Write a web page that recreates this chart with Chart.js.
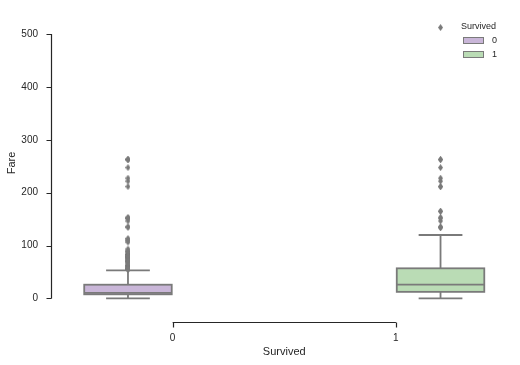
<!DOCTYPE html>
<html>
<head>
<meta charset="utf-8">
<script src="https://cdn.jsdelivr.net/npm/chart.js@4.4.1/dist/chart.umd.min.js"></script>
<style>
body { margin: 0; background: #fff; }
#wrap { position: relative; width: 520px; height: 365px; }
#legend { position: absolute; left: 461px; top: 21px; font: 9px "Liberation Sans", Arial, sans-serif; color: #262626; }
#legend .row { position: relative; height: 14px; }
#legend .swatch { position: absolute; left: 2px; top: 3px; width: 19px; height: 5px; border: 1px solid #7a7a7a; }
#legend .lbl { position: absolute; left: 31px; top: 0; }
</style>
</head>
<body>
<div id="wrap">
  <canvas id="myChart" width="520" height="365"></canvas>
  <div id="legend"></div>
</div>
<script>
// Titanic fare by survival
const categories = ['0', '1'];
const whiskerLow = [0, 0];
const q1 = [7.85, 12.48];
const medians = [10.5, 26];
const q3 = [26, 57];
const whiskerHigh = [53.1, 120];
const outliers0 = [263, 263, 262.38, 247.52, 227.53, 221.78, 211.5, 153.46, 151.55, 151.55,
    146.52, 135.63, 134.5, 113.28, 110.88, 108.9, 106.43, 93.5, 90, 89.1, 86.5, 83.48, 83.16,
    82.17, 81.86, 79.65, 79.2, 78.85, 77.96, 77.29, 76.73, 75.25, 73.5, 71.28, 71, 69.55, 69.3,
    66.6, 63.36, 61.98, 61.38, 61.18, 59.4, 57.75, 56.93, 56.5, 55.9, 55.44, 55];
const outliers1 = [512.33, 263, 262.38, 247.52, 227.53, 221.78, 211.5, 211.34, 164.87, 164.87,
    153.46, 151.55, 146.52, 135.63, 134.5, 133.65];
const outliers = [outliers0, outliers1];
const yTicks = [0, 100, 200, 300, 400, 500];
const xTicks = [0, 1];

const boxColors = ['#c9b6d8', '#badcb5'];
const lineColor = '#7a7a7a';
const axisColor = '#262626';
const boxWidth = 0.392;
const hueOffset = [-0.2, 0.2];

function boxPos(i) {
    return i + hueOffset[i];
}

// thin diamond marker like matplotlib 'd'
const diamond = document.createElement('canvas');
diamond.width = 5;
diamond.height = 7;
const dctx = diamond.getContext('2d');
dctx.fillStyle = lineColor;
dctx.beginPath();
dctx.moveTo(2.5, 0);
dctx.lineTo(5, 3.5);
dctx.lineTo(2.5, 7);
dctx.lineTo(0, 3.5);
dctx.closePath();
dctx.fill();

const boxPlugin = {
    id: 'boxes',
    beforeDatasetsDraw(chart) {
        const { ctx, scales: { x, y } } = chart;
        ctx.save();
        ctx.lineWidth = 1.8;
        ctx.strokeStyle = lineColor;
        categories.forEach((c, i) => {
            const xc = x.getPixelForValue(boxPos(i));
            const half = x.getPixelForValue(boxPos(i) + boxWidth / 2) - xc;
            const top = y.getPixelForValue(q3[i]);
            const bot = y.getPixelForValue(q1[i]);
            const med = y.getPixelForValue(medians[i]);
            const hi = y.getPixelForValue(whiskerHigh[i]);
            const lo = y.getPixelForValue(whiskerLow[i]);
            ctx.beginPath();
            ctx.moveTo(xc, top); ctx.lineTo(xc, hi);
            ctx.moveTo(xc, bot); ctx.lineTo(xc, lo);
            ctx.moveTo(xc - half / 2, hi); ctx.lineTo(xc + half / 2, hi);
            ctx.moveTo(xc - half / 2, lo); ctx.lineTo(xc + half / 2, lo);
            ctx.stroke();
            ctx.fillStyle = boxColors[i];
            ctx.fillRect(xc - half, top, half * 2, bot - top);
            ctx.strokeRect(xc - half, top, half * 2, bot - top);
            ctx.beginPath();
            ctx.moveTo(xc - half, med); ctx.lineTo(xc + half, med);
            ctx.stroke();
        });
        ctx.restore();
    }
};

// offset, trimmed spines (seaborn despine(offset=10, trim=True))
const spinePlugin = {
    id: 'spines',
    afterDraw(chart) {
        const { ctx, chartArea, scales: { x, y } } = chart;
        ctx.save();
        ctx.strokeStyle = axisColor;
        ctx.lineWidth = 1.2;
        const sx = Math.round(chartArea.left - 10) + 0.5;
        const sy = Math.round(chartArea.bottom + 10) + 0.5;
        ctx.beginPath();
        ctx.moveTo(sx, y.getPixelForValue(yTicks[0]));
        ctx.lineTo(sx, y.getPixelForValue(yTicks[yTicks.length - 1]));
        yTicks.forEach(v => {
            const py = Math.round(y.getPixelForValue(v)) + 0.5;
            ctx.moveTo(sx - 5, py); ctx.lineTo(sx, py);
        });
        ctx.moveTo(x.getPixelForValue(xTicks[0]), sy);
        ctx.lineTo(x.getPixelForValue(xTicks[xTicks.length - 1]), sy);
        xTicks.forEach(v => {
            const px = Math.round(x.getPixelForValue(v)) + 0.5;
            ctx.moveTo(px, sy); ctx.lineTo(px, sy + 5);
        });
        ctx.stroke();
        ctx.restore();
    }
};

const tickFont = { family: '"Liberation Sans", Arial, sans-serif', size: 10 };
const titleFont = { family: '"Liberation Sans", Arial, sans-serif', size: 11 };

const ctx = document.getElementById('myChart').getContext('2d');
// eslint-disable-next-line no-undef
new Chart(ctx, {
    type: 'scatter',
    data: {
        datasets: categories.map((c, i) => ({
            label: c,
            data: outliers[i].map(v => ({ x: boxPos(i), y: v })),
            pointStyle: diamond,
            backgroundColor: lineColor,
            borderColor: lineColor
        }))
    },
    options: {
        responsive: false,
        animation: false,
        layout: { padding: { left: 0, top: 14, right: 12.5, bottom: 0 } },
        plugins: {
            legend: { display: false },
            tooltip: { enabled: false }
        },
        scales: {
            x: {
                type: 'linear',
                min: -0.5,
                max: 1.5,
                afterBuildTicks: s => { s.ticks = xTicks.map(v => ({ value: v })); },
                afterFit: s => { s.height = 53; },
                grid: { color: 'transparent', tickLength: 12 },
                border: { display: false },
                ticks: { padding: 8, color: axisColor, font: tickFont, callback: (v, idx) => categories[idx] },
                title: { display: true, text: 'Survived', color: axisColor, font: titleFont, padding: { top: 0, bottom: 6.4 } }
            },
            y: {
                min: -25.6,
                max: 537.9,
                afterBuildTicks: s => { s.ticks = yTicks.map(v => ({ value: v })); },
                afterFit: s => { s.width = 61; },
                grid: { color: 'transparent', tickLength: 15 },
                border: { display: false },
                ticks: { padding: 8, color: axisColor, font: tickFont },
                title: { display: true, text: 'Fare', color: axisColor, font: titleFont, padding: { top: 5.4, bottom: 0 } }
            }
        }
    },
    plugins: [boxPlugin, spinePlugin]
});

// legend: hue title and one patch per category
const legend = document.getElementById('legend');
const title = document.createElement('div');
title.textContent = 'Survived';
title.style.height = '13px';
legend.append(title);
categories.forEach((c, i) => {
    const row = document.createElement('div');
    row.classList.add('row');
    const sw = document.createElement('span');
    sw.classList.add('swatch');
    sw.style.background = boxColors[i];
    const lbl = document.createElement('span');
    lbl.classList.add('lbl');
    lbl.style.top = '1px';
    lbl.textContent = c;
    row.append(sw, lbl);
    legend.append(row);
});
</script>
</body>
</html>
